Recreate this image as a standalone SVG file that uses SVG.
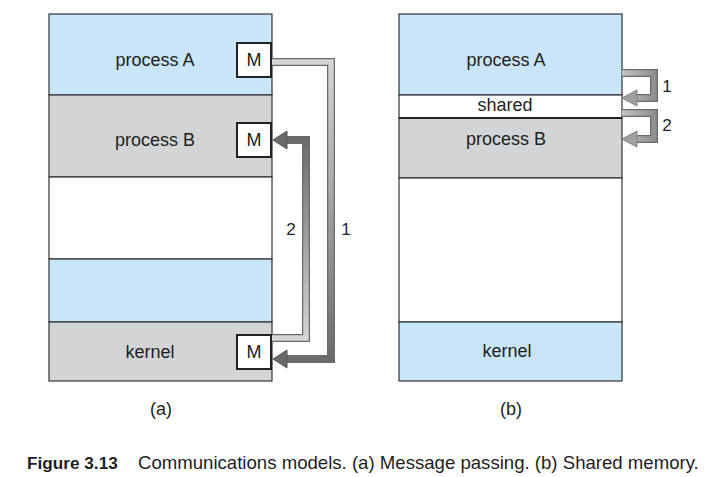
<svg xmlns="http://www.w3.org/2000/svg" width="719" height="477" viewBox="0 0 719 477">
<style>
text{font-family:"Liberation Sans",Arial,sans-serif;fill:#1e1e1e}
.lbl{font-size:18px;text-anchor:middle}
.num{font-size:17px;text-anchor:middle}
.sec{stroke:#333;stroke-width:1.2}
.blue{fill:#c8e6f7}
.gray{fill:#d3d4d5}
.white{fill:#fff}
.mbox{fill:#fff;stroke:#222;stroke-width:2}
.band-o{fill:none;stroke:#6a6a6a;stroke-width:8;stroke-linejoin:miter}
.cap{font-size:18.6px}
</style>
<defs>
<linearGradient id="g1" gradientUnits="userSpaceOnUse" x1="0" y1="60" x2="0" y2="362">
<stop offset="0" stop-color="#d6d6d6"/><stop offset="1" stop-color="#6a6a6a"/>
</linearGradient>
<linearGradient id="g2" gradientUnits="userSpaceOnUse" x1="0" y1="340" x2="0" y2="138">
<stop offset="0" stop-color="#d6d6d6"/><stop offset="1" stop-color="#6a6a6a"/>
</linearGradient>
<linearGradient id="g3" gradientUnits="userSpaceOnUse" x1="622" y1="0" x2="658" y2="0">
<stop offset="0" stop-color="#c4c4c4"/><stop offset="1" stop-color="#8a8a8a"/>
</linearGradient>
</defs>

<g id="panel-a">
<rect class="blue sec" x="49" y="14" width="223" height="81"/>
<rect class="gray sec" x="49" y="95" width="223" height="82"/>
<rect class="white sec" x="49" y="177" width="223" height="82"/>
<rect class="blue sec" x="49" y="259" width="223" height="63"/>
<rect class="gray sec" x="49" y="322" width="223" height="59"/>
</g>
<g id="a-processA"><text class="lbl" x="155" y="66">process A</text></g>
<g id="a-processB"><text class="lbl" x="155" y="146">process B</text></g>
<g id="a-kernel"><text class="lbl" x="150" y="358">kernel</text></g>
<g id="a-M1"><rect class="mbox" x="237" y="43" width="34" height="34"/><text class="lbl" x="254" y="66">M</text></g>
<g id="a-M2"><rect class="mbox" x="237" y="123" width="34" height="34"/><text class="lbl" x="254" y="146">M</text></g>
<g id="a-M3"><rect class="mbox" x="237" y="335" width="34" height="34"/><text class="lbl" x="254" y="358">M</text></g>

<g id="panel-b">
<rect class="blue sec" x="399" y="14" width="223" height="81"/>
<rect class="white sec" x="399" y="95" width="223" height="23"/>
<rect class="gray sec" x="399" y="118" width="223" height="60"/>
<rect class="white sec" x="399" y="178" width="223" height="144"/>
<rect class="blue sec" x="399" y="322" width="223" height="59"/>
<line x1="399" y1="118" x2="622" y2="118" stroke="#222" stroke-width="2.2"/>
</g>
<g id="b-processA"><text class="lbl" x="506" y="66">process A</text></g>
<g id="b-shared"><text class="lbl" x="505" y="111">shared</text></g>
<g id="b-processB"><text class="lbl" x="506" y="145">process B</text></g>
<g id="b-kernel"><text class="lbl" x="507" y="357">kernel</text></g>

<g id="connectors">
<path class="band-o" d="M272,62 H331 V359 H285"/>
<path d="M272,62 H331 V359 H285" fill="none" stroke="url(#g1)" stroke-width="5.5"/>
<polygon points="273,359 287,350 287,368" fill="#6a6a6a" stroke="#555" stroke-width="1"/>

<path class="band-o" d="M272,338 H306 V140 H285"/>
<path d="M272,338 H306 V140 H285" fill="none" stroke="url(#g2)" stroke-width="5.5"/>
<polygon points="273,140 287,131 287,149" fill="#6a6a6a" stroke="#555" stroke-width="1"/>

<path class="band-o" d="M622,73 H654 V98 H636" stroke="#8a8a8a"/>
<path d="M622,73 H654 V98 H636" fill="none" stroke="url(#g3)" stroke-width="5.5"/>
<polygon points="622,98 637,90 637,106" fill="#a0a0a0" stroke="#808080" stroke-width="1"/>

<path class="band-o" d="M622,113 H654 V139 H636" stroke="#8a8a8a"/>
<path d="M622,113 H654 V139 H636" fill="none" stroke="url(#g3)" stroke-width="5.5"/>
<polygon points="622,139 637,131 637,147" fill="#a0a0a0" stroke="#808080" stroke-width="1"/>
</g>

<g id="labels">
<text class="num" x="291" y="235">2</text>
<text class="num" x="346" y="235">1</text>
<text class="num" x="667" y="92">1</text>
<text class="num" x="667" y="131">2</text>
<text class="lbl" x="161" y="415">(a)</text>
<text class="lbl" x="511" y="415">(b)</text>
</g>

<g id="caption">
<text class="cap" x="27" y="469"><tspan font-weight="bold" font-size="17.2px">Figure 3.13</tspan><tspan x="138">Communications models. (a) Message passing. (b) Shared memory.</tspan></text>
</g>
</svg>
